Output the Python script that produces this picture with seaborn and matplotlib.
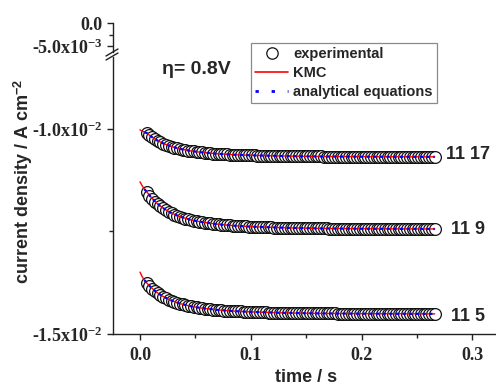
import numpy as np
import pandas as pd
import seaborn as sns
import matplotlib
matplotlib.use("Agg")
import matplotlib.pyplot as plt
from matplotlib.lines import Line2D
from matplotlib.ticker import FixedLocator

# ---------------- data (current density in mA cm^-2, converted below) ----------------
t_exp = [0.006, 0.0085, 0.011, 0.0135, 0.016, 0.0185, 0.021, 0.0235, 0.026, 0.0285,
         0.031, 0.0335, 0.036, 0.0385, 0.041, 0.0435, 0.046, 0.0485, 0.051, 0.0535,
         0.056, 0.0585, 0.061, 0.0635, 0.066, 0.0685, 0.071, 0.0735, 0.076, 0.0785,
         0.081, 0.0835, 0.086, 0.0885, 0.091, 0.0935, 0.096, 0.0985, 0.101, 0.1035,
         0.106, 0.1085, 0.111, 0.1135, 0.116, 0.1185, 0.121, 0.1235, 0.126, 0.1285,
         0.131, 0.1335, 0.136, 0.1385, 0.141, 0.1435, 0.146, 0.1485, 0.151, 0.1535,
         0.156, 0.1585, 0.161, 0.1635, 0.166, 0.1685, 0.171, 0.1735, 0.176, 0.1785,
         0.181, 0.1835, 0.186, 0.1885, 0.191, 0.1935, 0.196, 0.1985, 0.201, 0.2035,
         0.206, 0.2085, 0.211, 0.2135, 0.216, 0.2185, 0.221, 0.2235, 0.226, 0.2285,
         0.231, 0.2335, 0.236, 0.2385, 0.241, 0.2435, 0.246, 0.2485, 0.251, 0.2535,
         0.256, 0.2585, 0.261, 0.2635, 0.266]

exp_11_17 = [-10.100, -10.156, -10.207, -10.251, -10.290, -10.326, -10.357, -10.385, -10.410, -10.432,
             -10.453, -10.471, -10.487, -10.502, -10.515, -10.527, -10.538, -10.548, -10.557, -10.565,
             -10.573, -10.580, -10.586, -10.592, -10.598, -10.603, -10.607, -10.612, -10.616, -10.619,
             -10.623, -10.626, -10.629, -10.632, -10.635, -10.637, -10.639, -10.641, -10.644, -10.645,
             -10.647, -10.649, -10.651, -10.652, -10.653, -10.655, -10.656, -10.657, -10.658, -10.660,
             -10.661, -10.662, -10.662, -10.663, -10.664, -10.665, -10.666, -10.666, -10.667, -10.668,
             -10.668, -10.669, -10.670, -10.670, -10.671, -10.671, -10.671, -10.672, -10.672, -10.673,
             -10.673, -10.673, -10.674, -10.674, -10.674, -10.675, -10.675, -10.675, -10.675, -10.676,
             -10.676, -10.676, -10.676, -10.676, -10.677, -10.677, -10.677, -10.677, -10.677, -10.677,
             -10.677, -10.678, -10.678, -10.678, -10.678, -10.678, -10.678, -10.678, -10.678, -10.678,
             -10.679, -10.679, -10.679, -10.679, -10.679]

exp_11_9 = [-11.540, -11.628, -11.705, -11.774, -11.836, -11.890, -11.939, -11.982, -12.021, -12.056,
            -12.087, -12.115, -12.141, -12.163, -12.184, -12.203, -12.220, -12.235, -12.249, -12.262,
            -12.274, -12.285, -12.295, -12.304, -12.312, -12.320, -12.327, -12.334, -12.340, -12.346,
            -12.351, -12.356, -12.361, -12.365, -12.369, -12.373, -12.377, -12.380, -12.383, -12.386,
            -12.389, -12.392, -12.394, -12.397, -12.399, -12.401, -12.403, -12.405, -12.407, -12.408,
            -12.410, -12.411, -12.413, -12.414, -12.416, -12.417, -12.418, -12.419, -12.420, -12.421,
            -12.422, -12.423, -12.424, -12.425, -12.425, -12.426, -12.427, -12.427, -12.428, -12.429,
            -12.429, -12.430, -12.430, -12.431, -12.431, -12.432, -12.432, -12.432, -12.433, -12.433,
            -12.433, -12.434, -12.434, -12.434, -12.435, -12.435, -12.435, -12.435, -12.436, -12.436,
            -12.436, -12.436, -12.436, -12.437, -12.437, -12.437, -12.437, -12.437, -12.437, -12.437,
            -12.438, -12.438, -12.438, -12.438, -12.438]

exp_11_5 = [-13.760, -13.833, -13.898, -13.955, -14.006, -14.052, -14.092, -14.128, -14.161, -14.190,
            -14.216, -14.239, -14.260, -14.279, -14.297, -14.312, -14.326, -14.339, -14.351, -14.362,
            -14.372, -14.381, -14.389, -14.397, -14.404, -14.410, -14.416, -14.422, -14.427, -14.432,
            -14.436, -14.440, -14.444, -14.448, -14.451, -14.454, -14.457, -14.460, -14.463, -14.465,
            -14.468, -14.470, -14.472, -14.474, -14.476, -14.478, -14.479, -14.481, -14.482, -14.484,
            -14.485, -14.486, -14.487, -14.489, -14.490, -14.491, -14.492, -14.492, -14.493, -14.494,
            -14.495, -14.496, -14.497, -14.497, -14.498, -14.498, -14.499, -14.500, -14.500, -14.501,
            -14.501, -14.501, -14.502, -14.502, -14.503, -14.503, -14.503, -14.504, -14.504, -14.504,
            -14.505, -14.505, -14.505, -14.505, -14.506, -14.506, -14.506, -14.506, -14.506, -14.506,
            -14.506, -14.507, -14.507, -14.507, -14.507, -14.507, -14.507, -14.507, -14.507, -14.507,
            -14.508, -14.508, -14.508, -14.508, -14.508]

t_model = [0.0, 0.002, 0.004, 0.0063, 0.01, 0.015, 0.02, 0.027, 0.035, 0.045,
           0.055, 0.07, 0.085, 0.1, 0.13, 0.16, 0.2, 0.24, 0.266]

kmc_11_17 = [-10.019, -10.054, -10.077, -10.100, -10.181, -10.271, -10.341, -10.416, -10.479, -10.532,
             -10.569, -10.605, -10.628, -10.642, -10.660, -10.670, -10.675, -10.678, -10.679]
kmc_11_9 = [-11.288, -11.387, -11.468, -11.540, -11.666, -11.806, -11.914, -12.031, -12.128, -12.211,
            -12.267, -12.323, -12.359, -12.382, -12.409, -12.424, -12.433, -12.436, -12.438]
kmc_11_5 = [-13.490, -13.603, -13.685, -13.760, -13.865, -13.981, -14.071, -14.169, -14.250, -14.319,
            -14.366, -14.413, -14.443, -14.461, -14.485, -14.497, -14.504, -14.507, -14.509]

t_ana = [0.004, 0.0063, 0.01, 0.015, 0.02, 0.027, 0.035, 0.045,
         0.055, 0.07, 0.085, 0.1, 0.13, 0.16, 0.2, 0.24, 0.266]
ana_11_17 = [-10.077, -10.100, -10.181, -10.271, -10.341, -10.416, -10.479, -10.532,
             -10.569, -10.605, -10.628, -10.642, -10.660, -10.670, -10.675, -10.678, -10.679]
ana_11_9 = [-11.468, -11.540, -11.666, -11.806, -11.914, -12.031, -12.128, -12.211,
            -12.267, -12.323, -12.359, -12.382, -12.409, -12.424, -12.433, -12.436, -12.438]
ana_11_5 = [-13.685, -13.760, -13.865, -13.981, -14.071, -14.169, -14.250, -14.319,
            -14.366, -14.413, -14.443, -14.461, -14.485, -14.497, -14.504, -14.507, -14.509]

series_labels = ["11 17", "11 9", "11 5"]
label_y = [-10.634, -12.463, -14.585]
label_x = 0.2963

legend_labels = ["experimental", "KMC", "analytical equations"]
xticks = [0.0, 0.1, 0.2, 0.3]
xticklabels = ["0.0", "0.1", "0.2", "0.3"]
yticks_main = [-0.015, -0.010]
yticklabels_main = ["-1.5x10$^{-2}$", "-1.0x10$^{-2}$"]
yticks_top = [-0.005, 0.0]
yticklabels_top = ["-5.0x10$^{-3}$", "0.0"]

# ---------------- style ----------------
sns.set_style("ticks")
plt.rcParams["font.family"] = ["Liberation Sans", "DejaVu Sans"]
plt.rcParams["mathtext.fontset"] = "custom"
plt.rcParams["mathtext.rm"] = "Liberation Serif:bold"
plt.rcParams["mathtext.it"] = "Liberation Serif:bold:italic"
plt.rcParams["mathtext.bf"] = "Liberation Serif:bold"
plt.rcParams["mathtext.sf"] = "Liberation Sans:bold"

W, H = 496, 385
fig = plt.figure(figsize=(W / 100, H / 100), dpi=100)

def fx(px):
    return px / W

def fy(py):
    return 1 - py / H

ax = fig.add_axes([fx(113), fy(334), fx(496) - fx(113), fy(57) - fy(334)])
axt = fig.add_axes([fx(113), fy(52), fx(496) - fx(113), fy(23) - fy(52)])

tick_font = dict(family="Liberation Serif", weight="bold", size=13)
spine_col = "#222222"

exp_sets = [exp_11_17, exp_11_9, exp_11_5]
kmc_sets = [kmc_11_17, kmc_11_9, kmc_11_5]
ana_sets = [ana_11_17, ana_11_9, ana_11_5]

for e, k, a in zip(exp_sets, kmc_sets, ana_sets):
    de = pd.DataFrame({"t": t_exp, "j": np.array(e) * 1e-3})
    sns.scatterplot(data=de, x="t", y="j", ax=ax, marker="o", s=72,
                    facecolor="white", edgecolor="#111111", linewidth=0.9,
                    zorder=2, legend=False)
    dk = pd.DataFrame({"t": t_model, "j": np.array(k) * 1e-3})
    sns.lineplot(data=dk, x="t", y="j", ax=ax, color="#ff0000", linewidth=1.0,
                 sort=False, estimator=None, zorder=3, legend=False)
    da = pd.DataFrame({"t": t_ana, "j": np.array(a) * 1e-3})
    sns.lineplot(data=da, x="t", y="j", ax=ax, color="#0000ff", linewidth=1.6,
                 sort=False, estimator=None, zorder=4, legend=False,
                 dashes=False, linestyle=(0, (1.4, 1.6)))

ax.set_xlim(-0.02437, 0.3213)
ax.set_ylim(-0.015, -0.008244)
axt.set_xlim(-0.02437, 0.3213)
axt.set_ylim(-0.006304, 0.0)

for a_ in (ax, axt):
    for s in ("top", "right"):
        a_.spines[s].set_visible(False)
    a_.spines["left"].set_linewidth(1.0)
    a_.spines["left"].set_color(spine_col)
    a_.set_xlabel("")
    a_.set_ylabel("")
    a_.tick_params(axis="both", which="major", direction="out", length=4.5, width=1.0, color=spine_col)
    a_.tick_params(axis="both", which="minor", direction="out", length=2.8, width=1.0, color=spine_col)
    a_.patch.set_alpha(0)

ax.spines["bottom"].set_linewidth(1.0)
ax.spines["bottom"].set_color(spine_col)
axt.spines["bottom"].set_visible(False)
axt.tick_params(axis="x", which="both", bottom=False, labelbottom=False)

ax.set_xticks(xticks)
ax.set_xticklabels(xticklabels, **tick_font)
ax.xaxis.set_minor_locator(FixedLocator([0.05, 0.15, 0.25]))
ax.tick_params(axis="x", which="major", pad=5)

ax.set_yticks(yticks_main)
ax.set_yticklabels(yticklabels_main, **tick_font)
ax.yaxis.set_minor_locator(FixedLocator([-0.0125]))
ax.tick_params(axis="y", which="major", pad=3)

axt.set_yticks(yticks_top)
axt.set_yticklabels(yticklabels_top, **tick_font)
axt.yaxis.set_minor_locator(FixedLocator([-0.0025]))
axt.tick_params(axis="y", which="major", pad=3)

# axis-break slashes
for (x0, y0, x1, y1) in [(106, 56, 118, 49), (106, 60, 118, 53)]:
    fig.add_artist(Line2D([fx(x0), fx(x1)], [fy(y0), fy(y1)], color=spine_col,
                          linewidth=1.0, transform=fig.transFigure))

# axis labels
fig.text(fx(306), fy(378), "time / s", ha="center", va="center",
         fontsize=13, fontweight="bold", family="Liberation Sans")
fig.text(fx(23), fy(181), "current density / A cm$^{\\mathsf{-2}}$", ha="center", va="center",
         rotation=90, fontsize=13, fontweight="bold", family="Liberation Sans")

# annotations
fig.text(fx(162), fy(70), "\u03b7= 0.8V", ha="left", va="center",
         fontsize=14, fontweight="bold", family="Liberation Sans")
for lab, yv in zip(series_labels, label_y):
    ax.text(label_x, yv * 1e-3, lab, ha="center", va="center",
            fontsize=13, fontweight="bold", family="Liberation Sans")

# legend
handles = [
    Line2D([], [], linestyle="none", marker="o", markersize=8.2, markerfacecolor="white",
           markeredgecolor="#111111", markeredgewidth=0.9),
    Line2D([], [], color="#ff0000", linewidth=1.2),
    Line2D([], [], color="#0000ff", linewidth=2.0, linestyle=(0, (1.2, 4.6))),
]
leg = ax.legend(handles, legend_labels, loc="upper left",
                bbox_to_anchor=(fx(251), fy(43)), bbox_transform=fig.transFigure,
                prop=dict(family="Liberation Sans", weight="bold", size=10.5),
                frameon=True, fancybox=False, edgecolor="#8a8a8a", framealpha=1,
                borderpad=0.3, handlelength=2.25, handletextpad=0.35,
                labelspacing=0.32, borderaxespad=0)
leg.get_frame().set_linewidth(0.9)

fig.savefig("out.png", dpi=100)
